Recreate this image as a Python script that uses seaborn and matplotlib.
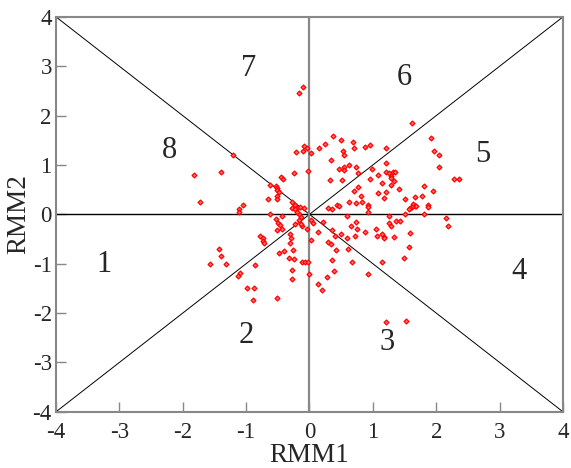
"""
RMM phase-space diagram: daily (RMM1, RMM2) points over the 8 MJO phases.
"""
import matplotlib
matplotlib.use("Agg")
import matplotlib.pyplot as plt
import seaborn as sns
import pandas as pd

# ── Data ──────────────────────────────────────────────────────────────────────
rmm1 = [
    -0.11, -0.16, -1.20, -0.08, -0.22, -0.11, -0.04, -1.39, -1.82, -0.25,
    -0.03, -0.45, -0.41, -0.62, -0.53, -0.51, -0.52, -0.48, -0.66, -0.51,
    -0.51, -1.73, -1.05, -1.11, -1.11, -0.28, -0.23, -0.20, -0.28, -0.15,
    -0.08, 1.62, 0.37, 0.49, 0.68, 0.25, 0.95, 0.87, 0.15, 0.03,
    0.53, 0.55, 0.71, 1.20, 1.91, 1.96, 2.05, 0.34, 0.62, 0.55,
    0.47, 0.54, 0.73, 1.21, 2.05, 0.98, 0.76, 1.20, 1.25, 1.28,
    1.31, 1.35, 1.29, 1.33, 1.08, 0.33, 0.51, 0.96, 1.14, 1.28,
    0.77, 1.42, 1.81, 2.28, 2.36, 0.71, 1.08, 1.21, 1.95, 0.81,
    1.17, 1.51, 1.66, 1.78, 0.63, 0.74, 0.83, 0.93, 0.93, 0.43,
    0.47, 1.63, 1.66, 1.61, 1.68, 1.58, 1.87, 1.87, 0.29, 0.35,
    0.93, 1.57, 1.50, 1.81, 0.59, 1.25, 2.15, 2.18, -0.16, -0.13,
    -0.16, 0.03, 0.05, 0.21, -0.12, -0.04, 0.13, 0.35, 0.74, 0.65,
    0.75, 1.05, 1.26, 1.29, 1.36, 1.43, 0.88, 0.49, 0.41, 0.59,
    0.72, 1.06, 1.15, 1.18, 1.17, 1.34, 1.58, 0.02, 0.29, 0.34,
    0.61, 0.42, 1.57, -0.12, -0.07, -0.03, 0.35, 0.67, 1.14, 1.49,
    0.00, 0.38, 0.27, 0.93, 0.14, 0.19, 1.21, 1.53, -0.63, -0.44,
    -0.53, -0.49, -0.47, -0.51, -0.44, -0.23, -0.20, -0.23, -0.13, -0.31,
    -0.29, -0.31, -0.78, -0.74, -0.73, -0.72, -1.43, -1.40, -1.57, -1.31,
    -0.48, -0.40, -0.26, -0.32, -0.25, -0.86, -1.09, -1.13, -0.27, -0.27,
    -0.98, -0.87, -0.89, -0.52,
]
rmm2 = [
    2.58, 2.46, 1.20, 1.38, 1.27, 1.29, 1.34, 0.86, 0.79, 0.83,
    0.88, 0.75, 0.71, 0.60, 0.57, 0.54, 0.49, 0.46, 0.31, 0.38,
    0.32, 0.26, 0.18, 0.10, 0.05, 0.26, 0.18, 0.13, 0.13, 0.14,
    0.13, 1.86, 1.59, 1.51, 1.47, 1.42, 1.41, 1.36, 1.34, 1.25,
    1.29, 1.21, 1.34, 1.34, 1.55, 1.29, 1.21, 1.11, 1.00, 0.95,
    0.92, 0.90, 0.96, 1.04, 0.96, 0.91, 0.83, 0.86, 0.83, 0.78,
    0.85, 0.86, 0.73, 0.68, 0.79, 0.69, 0.69, 0.71, 0.63, 0.60,
    0.56, 0.52, 0.58, 0.71, 0.71, 0.47, 0.43, 0.45, 0.47, 0.37,
    0.34, 0.32, 0.36, 0.37, 0.24, 0.23, 0.24, 0.18, 0.14, 0.19,
    0.16, 0.21, 0.16, 0.15, 0.16, 0.12, 0.18, 0.14, 0.12, 0.11,
    0.05, 0.10, 0.01, 0.01, -0.04, -0.03, -0.08, -0.24, 0.01, -0.05,
    -0.12, -0.11, -0.18, -0.16, -0.24, -0.29, -0.35, -0.31, -0.15, -0.23,
    -0.29, -0.29, -0.18, -0.24, -0.13, -0.13, -0.36, -0.39, -0.44, -0.47,
    -0.43, -0.43, -0.39, -0.45, -0.47, -0.45, -0.37, -0.52, -0.57, -0.61,
    -0.71, -0.73, -0.67, -0.97, -0.97, -0.97, -0.92, -0.96, -0.97, -0.88,
    -1.20, -1.14, -1.26, -1.20, -1.41, -1.53, -2.19, -2.16, 0.01, -0.04,
    -0.10, -0.18, -0.22, -0.31, -0.29, 0.10, 0.05, -0.19, -0.20, -0.39,
    -0.47, -0.58, -0.44, -0.48, -0.53, -0.58, -0.71, -0.84, -1.00, -1.00,
    -0.78, -0.75, -0.72, -0.88, -0.90, -1.02, -1.18, -1.24, -1.13, -1.31,
    -1.50, -1.50, -1.73, -1.70,
]

phases = ["1", "2", "3", "4", "5", "6", "7", "8"]
phase_x = [-3.24, -1.00, 1.23, 3.30, 2.73, 1.49, -0.96, -2.21]
phase_y = [-1.02, -2.45, -2.60, -1.16, 1.22, 2.78, 2.96, 1.29]

ticks = [-4, -3, -2, -1, 0, 1, 2, 3, 4]

# ── Plot ──────────────────────────────────────────────────────────────────────
sns.set_style("ticks")
plt.rcParams["font.family"] = ["Liberation Serif", "DejaVu Serif"]

fig = plt.figure(figsize=(5.71, 4.68), dpi=100)
ax = fig.add_axes([0.098, 0.12, 0.888, 0.844])

# phase boundaries
ax.plot([-4, 4], [-4, 4], color="black", lw=0.7, zorder=1)
ax.plot([-4, 4], [4, -4], color="black", lw=0.7, zorder=1)
ax.axhline(0, color="black", lw=1.0, zorder=1)
ax.axvline(0, color="#888888", lw=1.6, zorder=1)

df = pd.DataFrame({"RMM1": rmm1, "RMM2": rmm2})
sns.scatterplot(data=df, x="RMM1", y="RMM2", ax=ax, marker="D", s=6,
                facecolor="#ff7070", edgecolor="red", linewidth=0.9, zorder=3)

for lab, px, py in zip(phases, phase_x, phase_y):
    ax.text(px, py, lab, fontsize=22, ha="center", va="center")

ax.set_xlim(-4, 4)
ax.set_ylim(-4, 4)
ax.set_xticks(ticks)
ax.set_yticks(ticks)
ax.set_xticklabels([str(t) for t in ticks])
ax.set_yticklabels([str(t) for t in ticks])
ax.tick_params(direction="in", length=7, width=1, color="#888888",
               labelsize=16.5, pad=3)
ax.tick_params(axis="x", pad=7)
for sp in ax.spines.values():
    sp.set_color("#888888")
    sp.set_linewidth(1.5)

ax.set_xlabel("RMM1", fontsize=19.5, labelpad=0)
ax.set_ylabel("RMM2", fontsize=19.5, labelpad=1)

fig.savefig("out.png", dpi=100)
plt.close(fig)
